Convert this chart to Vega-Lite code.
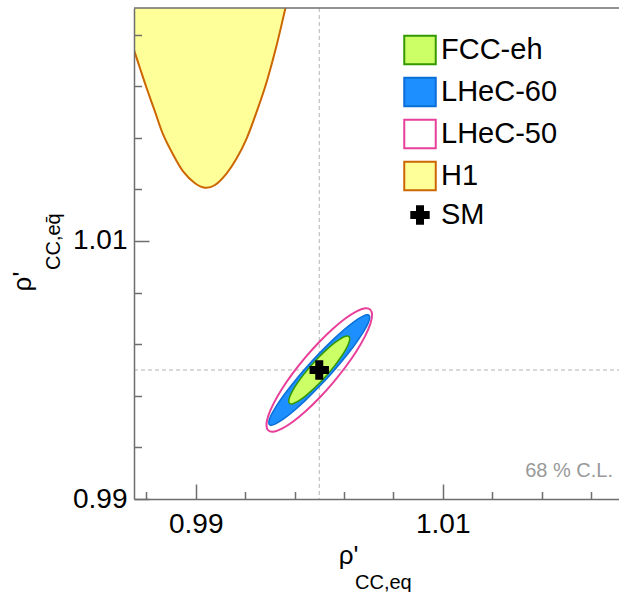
{
  "$schema": "https://vega.github.io/schema/vega-lite/v6.json",
  "width": 494,
  "height": 491,
  "autosize": "none",
  "padding": {"left": 134, "top": 8, "right": 0, "bottom": 93},
  "background": "white",
  "data": {"values": [{"note": "annotation"}]},
  "config": {
    "view": {"stroke": null},
    "font": "Liberation Sans",
    "axis": {
      "domainColor": "#6e6e6e", "domainWidth": 1.5,
      "tickColor": "#6e6e6e", "tickWidth": 1.5,
      "labelFont": "Liberation Sans", "labelFontSize": 28, "labelColor": "#000000",
      "labelFlush": false, "labelOverlap": false, "labelSeparation": -100, "grid": false,
      "titleFont": "Liberation Sans", "titleFontWeight": "normal", "titleColor": "#000000", "titleFontSize": 26
    }
  },
  "datasets": {
    "h1": [
      {"exp": "H1", "i": 0, "x": 0.98338, "y": 1.031008},
      {"exp": "H1", "i": 1, "x": 0.98338, "y": 1.029457},
      {"exp": "H1", "i": 2, "x": 0.98427, "y": 1.0269},
      {"exp": "H1", "i": 3, "x": 0.985, "y": 1.024806},
      {"exp": "H1", "i": 4, "x": 0.985486, "y": 1.023388},
      {"exp": "H1", "i": 5, "x": 0.986028, "y": 1.021837},
      {"exp": "H1", "i": 6, "x": 0.9867, "y": 1.020023},
      {"exp": "H1", "i": 7, "x": 0.987372, "y": 1.018217},
      {"exp": "H1", "i": 8, "x": 0.988182, "y": 1.016667},
      {"exp": "H1", "i": 9, "x": 0.988992, "y": 1.015372},
      {"exp": "H1", "i": 10, "x": 0.989939, "y": 1.014473},
      {"exp": "H1", "i": 11, "x": 0.990749, "y": 1.014132},
      {"exp": "H1", "i": 12, "x": 0.991559, "y": 1.014341},
      {"exp": "H1", "i": 13, "x": 0.992506, "y": 1.015248},
      {"exp": "H1", "i": 14, "x": 0.993316, "y": 1.016411},
      {"exp": "H1", "i": 15, "x": 0.994126, "y": 1.017961},
      {"exp": "H1", "i": 16, "x": 0.994935, "y": 1.020023},
      {"exp": "H1", "i": 17, "x": 0.995745, "y": 1.022349},
      {"exp": "H1", "i": 18, "x": 0.996555, "y": 1.025194},
      {"exp": "H1", "i": 19, "x": 0.997227, "y": 1.027907},
      {"exp": "H1", "i": 20, "x": 0.997632, "y": 1.029535},
      {"exp": "H1", "i": 21, "x": 0.997632, "y": 1.031008}
    ],
    "lhec50": [
      {"exp": "LHeC-50", "i": 0, "x": 1.004275, "y": 1.004264},
      {"exp": "LHeC-50", "i": 1, "x": 1.004129, "y": 1.004681},
      {"exp": "LHeC-50", "i": 2, "x": 1.003702, "y": 1.00478},
      {"exp": "LHeC-50", "i": 3, "x": 1.003023, "y": 1.004552},
      {"exp": "LHeC-50", "i": 4, "x": 1.002138, "y": 1.004014},
      {"exp": "LHeC-50", "i": 5, "x": 1.001106, "y": 1.003203},
      {"exp": "LHeC-50", "i": 6, "x": 1.0, "y": 1.002173},
      {"exp": "LHeC-50", "i": 7, "x": 0.998894, "y": 1.000995},
      {"exp": "LHeC-50", "i": 8, "x": 0.997862, "y": 0.99975},
      {"exp": "LHeC-50", "i": 9, "x": 0.996977, "y": 0.998522},
      {"exp": "LHeC-50", "i": 10, "x": 0.996298, "y": 0.997394},
      {"exp": "LHeC-50", "i": 11, "x": 0.995871, "y": 0.996443},
      {"exp": "LHeC-50", "i": 12, "x": 0.995725, "y": 0.995736},
      {"exp": "LHeC-50", "i": 13, "x": 0.995871, "y": 0.995319},
      {"exp": "LHeC-50", "i": 14, "x": 0.996298, "y": 0.99522},
      {"exp": "LHeC-50", "i": 15, "x": 0.996977, "y": 0.995448},
      {"exp": "LHeC-50", "i": 16, "x": 0.997862, "y": 0.995986},
      {"exp": "LHeC-50", "i": 17, "x": 0.998894, "y": 0.996797},
      {"exp": "LHeC-50", "i": 18, "x": 1.0, "y": 0.997827},
      {"exp": "LHeC-50", "i": 19, "x": 1.001106, "y": 0.999005},
      {"exp": "LHeC-50", "i": 20, "x": 1.002138, "y": 1.00025},
      {"exp": "LHeC-50", "i": 21, "x": 1.003023, "y": 1.001478},
      {"exp": "LHeC-50", "i": 22, "x": 1.003702, "y": 1.002606},
      {"exp": "LHeC-50", "i": 23, "x": 1.004129, "y": 1.003557}
    ],
    "lhec60": [
      {"exp": "LHeC-60", "i": 0, "x": 1.004089, "y": 1.004082},
      {"exp": "LHeC-60", "i": 1, "x": 1.00395, "y": 1.004276},
      {"exp": "LHeC-60", "i": 2, "x": 1.003541, "y": 1.004179},
      {"exp": "LHeC-60", "i": 3, "x": 1.002891, "y": 1.003796},
      {"exp": "LHeC-60", "i": 4, "x": 1.002045, "y": 1.003156},
      {"exp": "LHeC-60", "i": 5, "x": 1.001058, "y": 1.002299},
      {"exp": "LHeC-60", "i": 6, "x": 1.0, "y": 1.001287},
      {"exp": "LHeC-60", "i": 7, "x": 0.998942, "y": 1.000187},
      {"exp": "LHeC-60", "i": 8, "x": 0.997955, "y": 0.999074},
      {"exp": "LHeC-60", "i": 9, "x": 0.997109, "y": 0.998024},
      {"exp": "LHeC-60", "i": 10, "x": 0.996459, "y": 0.997109},
      {"exp": "LHeC-60", "i": 11, "x": 0.99605, "y": 0.99639},
      {"exp": "LHeC-60", "i": 12, "x": 0.995911, "y": 0.995918},
      {"exp": "LHeC-60", "i": 13, "x": 0.99605, "y": 0.995724},
      {"exp": "LHeC-60", "i": 14, "x": 0.996459, "y": 0.995821},
      {"exp": "LHeC-60", "i": 15, "x": 0.997109, "y": 0.996204},
      {"exp": "LHeC-60", "i": 16, "x": 0.997955, "y": 0.996844},
      {"exp": "LHeC-60", "i": 17, "x": 0.998942, "y": 0.997701},
      {"exp": "LHeC-60", "i": 18, "x": 1.0, "y": 0.998713},
      {"exp": "LHeC-60", "i": 19, "x": 1.001058, "y": 0.999813},
      {"exp": "LHeC-60", "i": 20, "x": 1.002045, "y": 1.000926},
      {"exp": "LHeC-60", "i": 21, "x": 1.002891, "y": 1.001976},
      {"exp": "LHeC-60", "i": 22, "x": 1.003541, "y": 1.002891},
      {"exp": "LHeC-60", "i": 23, "x": 1.00395, "y": 1.00361}
    ],
    "fcc": [
      {"exp": "FCC-eh", "i": 0, "x": 1.00247, "y": 1.002421},
      {"exp": "FCC-eh", "i": 1, "x": 1.002386, "y": 1.002604},
      {"exp": "FCC-eh", "i": 2, "x": 1.002139, "y": 1.002611},
      {"exp": "FCC-eh", "i": 3, "x": 1.001747, "y": 1.002439},
      {"exp": "FCC-eh", "i": 4, "x": 1.001235, "y": 1.002101},
      {"exp": "FCC-eh", "i": 5, "x": 1.000639, "y": 1.00162},
      {"exp": "FCC-eh", "i": 6, "x": 1.0, "y": 1.001028},
      {"exp": "FCC-eh", "i": 7, "x": 0.999361, "y": 1.000366},
      {"exp": "FCC-eh", "i": 8, "x": 0.998765, "y": 0.999679},
      {"exp": "FCC-eh", "i": 9, "x": 0.998253, "y": 0.999015},
      {"exp": "FCC-eh", "i": 10, "x": 0.997861, "y": 0.998417},
      {"exp": "FCC-eh", "i": 11, "x": 0.997614, "y": 0.997928},
      {"exp": "FCC-eh", "i": 12, "x": 0.99753, "y": 0.997579},
      {"exp": "FCC-eh", "i": 13, "x": 0.997614, "y": 0.997396},
      {"exp": "FCC-eh", "i": 14, "x": 0.997861, "y": 0.997389},
      {"exp": "FCC-eh", "i": 15, "x": 0.998253, "y": 0.997561},
      {"exp": "FCC-eh", "i": 16, "x": 0.998765, "y": 0.997899},
      {"exp": "FCC-eh", "i": 17, "x": 0.999361, "y": 0.99838},
      {"exp": "FCC-eh", "i": 18, "x": 1.0, "y": 0.998972},
      {"exp": "FCC-eh", "i": 19, "x": 1.000639, "y": 0.999634},
      {"exp": "FCC-eh", "i": 20, "x": 1.001235, "y": 1.000321},
      {"exp": "FCC-eh", "i": 21, "x": 1.001747, "y": 1.000985},
      {"exp": "FCC-eh", "i": 22, "x": 1.002139, "y": 1.001583},
      {"exp": "FCC-eh", "i": 23, "x": 1.002386, "y": 1.002072}
    ],
    "sm": [
      {"exp": "SM", "x": 1.0, "y": 1.0}
    ],
    "ref": [
      {"v": 1.0}
    ]
  },
  "layer": [
    {
      "data": {"name": "ref"},
      "mark": {"type": "rule", "color": "#b4b4b4", "strokeDash": [4, 3], "strokeWidth": 1},
      "encoding": {
        "x": {"field": "v", "type": "quantitative", "scale": {"domain": [0.985, 1.025], "nice": false, "zero": false}}
      }
    },
    {
      "data": {"name": "ref"},
      "mark": {"type": "rule", "color": "#b4b4b4", "strokeDash": [4, 3], "strokeWidth": 1},
      "encoding": {
        "y": {"field": "v", "type": "quantitative",
          "scale": {"domain": [0.99, 1.02806], "nice": false, "zero": false},
          "axis": {"orient": "left", "title": "ρ'", "labelOverlap": false, "labelSeparation": -100, "zindex": 1,
            "values": [0.99, 0.992, 0.994, 0.996, 0.998, 1, 1.002, 1.004, 1.006, 1.008, 1.01, 1.012, 1.014, 1.016, 1.018, 1.02, 1.022, 1.024, 1.026, 1.028],
            "labelExpr": "abs(datum.value*100 - round(datum.value*100)) < 1e-6 ? format(datum.value, '~g') : ''",
            "tickSize": -15,
            "tickDash": {"condition": {"test": "abs(datum.value*100 - round(datum.value*100)) < 1e-6", "value": [20, 1]}, "value": [7.5, 40]},
            "labelPadding": 22,
            "titleX": -104, "titleY": 273, "titleAngle": 270, "titleAlign": "center", "titleBaseline": "alphabetic"}}
      }
    },
    {
      "data": {"name": "h1"},
      "mark": {"type": "line", "interpolate": "cardinal-closed", "strokeWidth": 2, "clip": true, "fill": "#ffff99", "stroke": "#cc6600"},
      "encoding": {
        "x": {"field": "x", "type": "quantitative",
          "scale": {"domain": [0.985, 1.025], "nice": false, "zero": false},
          "axis": {"orient": "bottom", "title": "ρ'", "labelOverlap": false, "labelSeparation": -100, "zindex": 1,
            "values": [0.986, 0.988, 0.99, 0.992, 0.994, 0.996, 0.998, 1, 1.002, 1.004, 1.006, 1.008, 1.01, 1.012, 1.014, 1.016, 1.018, 1.02, 1.022, 1.024],
            "labelExpr": "abs(datum.value*100 - round(datum.value*100)) < 1e-6 ? format(datum.value, '~g') : ''",
            "tickSize": -15,
            "tickDash": {"condition": {"test": "abs(datum.value*100 - round(datum.value*100)) < 1e-6", "value": [20, 1]}, "value": [7.5, 40]},
            "labelPadding": 26,
            "titleX": 214, "titleY": 64, "titleAlign": "center", "titleBaseline": "alphabetic"}},
        "y": {"field": "y", "type": "quantitative", "scale": {"domain": [0.99, 1.02806], "nice": false, "zero": false}},
        "order": {"field": "i", "type": "quantitative"}
      }
    },
    {
      "mark": {"type": "rule", "color": "#6e6e6e", "strokeWidth": 1.5},
      "encoding": {
        "y": {"datum": 1.02806, "type": "quantitative", "scale": {"domain": [0.99, 1.02806], "nice": false, "zero": false}}
      }
    },
    {
      "data": {"name": "lhec50"},
      "mark": {"type": "line", "interpolate": "cardinal-closed", "strokeWidth": 2, "fill": "transparent", "stroke": "#e8409a"},
      "encoding": {
        "x": {"field": "x", "type": "quantitative", "scale": {"domain": [0.985, 1.025], "nice": false, "zero": false}},
        "y": {"field": "y", "type": "quantitative", "scale": {"domain": [0.99, 1.02806], "nice": false, "zero": false}},
        "order": {"field": "i", "type": "quantitative"}
      }
    },
    {
      "data": {"name": "lhec60"},
      "mark": {"type": "line", "interpolate": "cardinal-closed", "strokeWidth": 1.5, "fill": "#1e8fff", "stroke": "#0a6fd8"},
      "encoding": {
        "x": {"field": "x", "type": "quantitative", "scale": {"domain": [0.985, 1.025], "nice": false, "zero": false}},
        "y": {"field": "y", "type": "quantitative", "scale": {"domain": [0.99, 1.02806], "nice": false, "zero": false}},
        "order": {"field": "i", "type": "quantitative"}
      }
    },
    {
      "data": {"name": "fcc"},
      "mark": {"type": "line", "interpolate": "cardinal-closed", "strokeWidth": 1.5, "fill": "#ccff66", "stroke": "#339900"},
      "encoding": {
        "x": {"field": "x", "type": "quantitative", "scale": {"domain": [0.985, 1.025], "nice": false, "zero": false}},
        "y": {"field": "y", "type": "quantitative", "scale": {"domain": [0.99, 1.02806], "nice": false, "zero": false}},
        "order": {"field": "i", "type": "quantitative"}
      }
    },
    {
      "data": {"name": "sm"},
      "mark": {"type": "point", "filled": true, "size": 900, "strokeWidth": 2, "opacity": 1},
      "encoding": {
        "x": {"field": "x", "type": "quantitative", "scale": {"domain": [0.985, 1.025], "nice": false, "zero": false}},
        "y": {"field": "y", "type": "quantitative", "scale": {"domain": [0.99, 1.02806], "nice": false, "zero": false}},
        "fill": {"field": "exp", "type": "nominal",
          "scale": {"domain": ["FCC-eh", "LHeC-60", "LHeC-50", "H1", "SM"], "range": ["#ccff66", "#1e8fff", "transparent", "#ffff99", "#000000"]},
          "legend": {"title": null, "orient": "none", "legendX": 270, "legendY": 26, "padding": 0, "symbolSize": 900, "symbolStrokeWidth": 2, "labelFontSize": 29, "labelFont": "Liberation Sans", "labelColor": "#000000", "labelOffset": 5, "rowPadding": 4, "labelLimit": 300}},
        "stroke": {"field": "exp", "type": "nominal",
          "scale": {"domain": ["FCC-eh", "LHeC-60", "LHeC-50", "H1", "SM"], "range": ["#339900", "#0a6fd8", "#e8409a", "#cc6600", "#000000"]},
          "legend": {"title": null, "orient": "none", "legendX": 270, "legendY": 26, "padding": 0, "symbolSize": 900, "symbolStrokeWidth": 2, "labelFontSize": 29, "labelFont": "Liberation Sans", "labelColor": "#000000", "labelOffset": 5, "rowPadding": 4, "labelLimit": 300}},
        "shape": {"field": "exp", "type": "nominal",
          "scale": {"domain": ["FCC-eh", "LHeC-60", "LHeC-50", "H1", "SM"], "range": ["M-1.05,-0.95H1.05V0.95H-1.05Z", "M-1.05,-0.95H1.05V0.95H-1.05Z", "M-1.05,-0.95H1.05V0.95H-1.05Z", "M-1.05,-0.95H1.05V0.95H-1.05Z", "M-0.2,-0.58H0.2V-0.2H0.58V0.2H0.2V0.58H-0.2V0.2H-0.58V-0.2H-0.2Z"]},
          "legend": {"title": null, "orient": "none", "legendX": 270, "legendY": 26, "padding": 0, "symbolSize": 900, "symbolStrokeWidth": 2, "labelFontSize": 29, "labelFont": "Liberation Sans", "labelColor": "#000000", "labelOffset": 5, "rowPadding": 4, "labelLimit": 300}}
      }
    },
    {
      "mark": {"type": "text", "text": "CC,eq", "align": "left", "baseline": "alphabetic", "fontSize": 20, "font": "Liberation Sans", "color": "#000000"},
      "encoding": {
        "x": {"datum": 1.002895, "type": "quantitative", "scale": {"domain": [0.985, 1.025], "nice": false, "zero": false}},
        "y": {"datum": 0.983023, "type": "quantitative", "scale": {"domain": [0.99, 1.02806], "nice": false, "zero": false}}
      }
    },
    {
      "mark": {"type": "text", "text": "CC,eq̄", "align": "left", "baseline": "alphabetic", "angle": 270, "fontSize": 20, "font": "Liberation Sans", "color": "#000000"},
      "encoding": {
        "x": {"datum": 0.979008, "type": "quantitative", "scale": {"domain": [0.985, 1.025], "nice": false, "zero": false}},
        "y": {"datum": 1.007752, "type": "quantitative", "scale": {"domain": [0.99, 1.02806], "nice": false, "zero": false}}
      }
    },
    {
      "mark": {"type": "text", "text": "68 % C.L.", "align": "right", "baseline": "alphabetic", "fontSize": 20, "font": "Liberation Sans", "color": "#999999"},
      "encoding": {
        "x": {"datum": 1.023785, "type": "quantitative", "scale": {"domain": [0.985, 1.025], "nice": false, "zero": false}},
        "y": {"datum": 0.991705, "type": "quantitative", "scale": {"domain": [0.99, 1.02806], "nice": false, "zero": false}}
      }
    }
  ]
}
